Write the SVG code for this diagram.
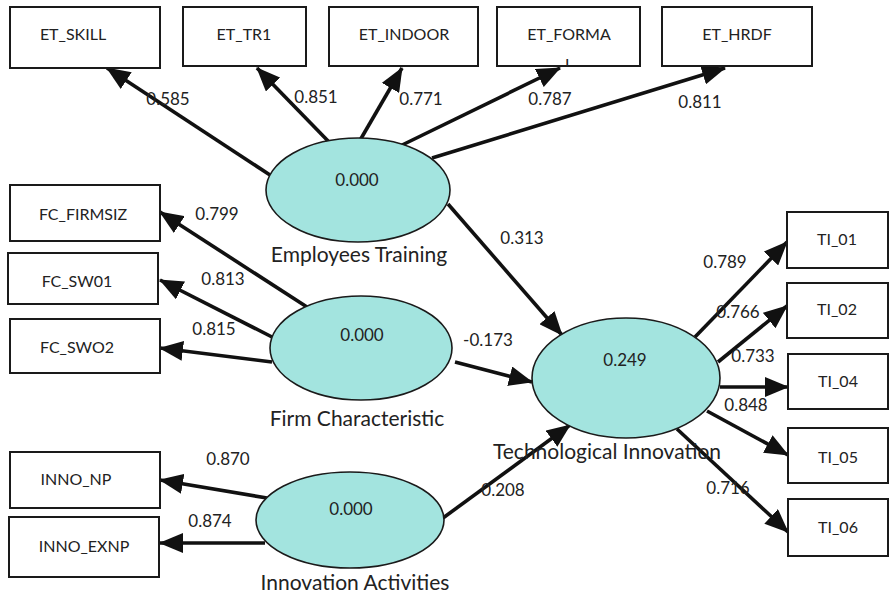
<svg xmlns="http://www.w3.org/2000/svg" width="889" height="595" viewBox="0 0 889 595">
<style>
.box{fill:#fff;stroke:#1a1a1a;stroke-width:2}
.lv{fill:#a3e4df;stroke:#1a1a1a;stroke-width:1.6}
.t{font-family:Lato,"Open Sans",sans-serif;fill:#222;text-anchor:middle}
.bt{font-size:16px}
.nt{font-size:17px}
.lt{font-size:21px}
.c line{stroke:#111;stroke-width:3.6;marker-end:url(#ah)}
</style>
<defs>
<marker id="ah" markerUnits="userSpaceOnUse" markerWidth="24" markerHeight="20" refX="23" refY="10" orient="auto">
<path d="M0,0 L24,10 L0,20 z" fill="#111"/>
</marker>
<clipPath id="cf"><rect x="497" y="7" width="143" height="59"/></clipPath>
</defs>
<g id="connectors" class="c">
<line x1="270" y1="175" x2="107" y2="68"/>
<line x1="330" y1="143" x2="257" y2="68"/>
<line x1="359" y1="142" x2="402" y2="68"/>
<line x1="398" y1="147" x2="560" y2="68"/>
<line x1="432" y1="158" x2="725" y2="68"/>
<line x1="307" y1="307" x2="160" y2="212"/>
<line x1="272" y1="337" x2="160" y2="280"/>
<line x1="272" y1="362" x2="160" y2="348"/>
<line x1="448" y1="204" x2="562" y2="335"/>
<line x1="455" y1="362" x2="532" y2="382"/>
<line x1="443" y1="518" x2="570" y2="425"/>
<line x1="695" y1="337" x2="787" y2="242"/>
<line x1="718" y1="362" x2="787" y2="306"/>
<line x1="720" y1="387" x2="788" y2="387"/>
<line x1="707" y1="411" x2="788" y2="455"/>
<line x1="677" y1="429" x2="788" y2="532"/>
<line x1="267" y1="498" x2="160" y2="480"/>
<line x1="265" y1="543" x2="160" y2="543"/>
</g>
<g id="labels" class="t nt">
<text x="168" y="105">0.585</text>
<text x="316" y="103">0.851</text>
<text x="421" y="105">0.771</text>
<text x="550" y="105">0.787</text>
<text x="700" y="108">0.811</text>
<text x="217" y="220">0.799</text>
<text x="223" y="285">0.813</text>
<text x="214" y="335">0.815</text>
<text x="522" y="244">0.313</text>
<text x="488" y="346">-0.173</text>
<text x="503" y="496">0.208</text>
<text x="725" y="268">0.789</text>
<text x="738" y="318">0.766</text>
<text x="753" y="362">0.733</text>
<text x="746" y="411">0.848</text>
<text x="728" y="494">0.716</text>
<text x="228" y="465">0.870</text>
<text x="210" y="527">0.874</text>
</g>
<g id="ET_SKILL"><rect class="box" x="10" y="7" width="150" height="61"/><text class="t bt" x="73" y="40">ET_SKILL</text></g>
<g id="ET_TR1"><rect class="box" x="183" y="7" width="123" height="59"/><text class="t bt" x="244" y="40">ET_TR1</text></g>
<g id="ET_INDOOR"><rect class="box" x="329" y="7" width="149" height="59"/><text class="t bt" x="404" y="40">ET_INDOOR</text></g>
<g id="ET_FORMA"><rect class="box" x="497" y="7" width="143" height="59"/><text class="t bt" x="569" y="40">ET_FORMA</text><text class="t bt" x="569" y="70" clip-path="url(#cf)">L</text></g>
<g id="ET_HRDF"><rect class="box" x="662" y="7" width="150" height="59"/><text class="t bt" x="737" y="40">ET_HRDF</text></g>
<g id="FC_FIRMSIZ"><rect class="box" x="10" y="185" width="150" height="56"/><text class="t bt" x="83" y="220">FC_FIRMSIZ</text></g>
<g id="FC_SW01"><rect class="box" x="8" y="253" width="150" height="51"/><text class="t bt" x="77" y="287">FC_SW01</text></g>
<g id="FC_SWO2"><rect class="box" x="10" y="319" width="150" height="54"/><text class="t bt" x="77" y="353">FC_SWO2</text></g>
<g id="INNO_NP"><rect class="box" x="10" y="452" width="150" height="56"/><text class="t bt" x="76" y="485">INNO_NP</text></g>
<g id="INNO_EXNP"><rect class="box" x="9" y="517" width="150" height="60"/><text class="t bt" x="84" y="552">INNO_EXNP</text></g>
<g id="TI_01"><rect class="box" x="787" y="212" width="101" height="56"/><text class="t bt" x="837" y="245">TI_01</text></g>
<g id="TI_02"><rect class="box" x="787" y="283" width="101" height="55"/><text class="t bt" x="837" y="315">TI_02</text></g>
<g id="TI_04"><rect class="box" x="788" y="354" width="100" height="55"/><text class="t bt" x="838" y="387">TI_04</text></g>
<g id="TI_05"><rect class="box" x="788" y="428" width="100" height="55"/><text class="t bt" x="838" y="463">TI_05</text></g>
<g id="TI_06"><rect class="box" x="788" y="499" width="100" height="57"/><text class="t bt" x="838" y="533">TI_06</text></g>
<g id="Employees_Training"><ellipse class="lv" cx="358" cy="190" rx="92" ry="52"/><text class="t nt" x="357" y="186">0.000</text><text class="t lt" x="359" y="262">Employees Training</text></g>
<g id="Firm_Characteristic"><ellipse class="lv" cx="361" cy="348" rx="91" ry="52"/><text class="t nt" x="362" y="341">0.000</text><text class="t lt" x="357" y="426">Firm Characteristic</text></g>
<g id="Technological_Innovation"><ellipse class="lv" cx="626" cy="378" rx="94" ry="60"/><text class="t nt" x="625" y="366">0.249</text><text class="t lt" x="607" y="459">Technological Innovation</text></g>
<g id="Innovation_Activities"><ellipse class="lv" cx="350" cy="520" rx="94" ry="48"/><text class="t nt" x="351" y="515">0.000</text><text class="t lt" x="355" y="590">Innovation Activities</text></g>
</svg>
